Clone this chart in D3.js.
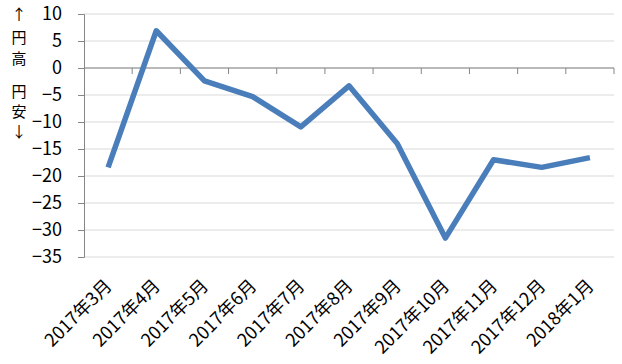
<!DOCTYPE html>
<html lang="ja">
<head>
<meta charset="UTF-8">
<script src="https://d3js.org/d3.v7.min.js"></script>
<style>
  body { margin: 0; background: #fff; }
  svg text { font-family: "Noto Sans CJK JP", "Noto Sans", sans-serif; fill: #000; }
</style>
</head>
<body>
<svg id="chart"></svg>
<script>
// data
const months = ["2017年3月", "2017年4月", "2017年5月", "2017年6月", "2017年7月", "2017年8月",
                "2017年9月", "2017年10月", "2017年11月", "2017年12月", "2018年1月"];
const values = [-18.4, 6.9, -2.4, -5.3, -10.9, -3.3, -14.0, -31.5, -17.0, -18.4, -16.6];
const yTicks = [10, 5, 0, -5, -10, -15, -20, -25, -30, -35];

const W = 622, H = 364;
const margin = { top: 14, right: 8, bottom: 107, left: 84 };
const width = W - margin.left - margin.right;
const height = H - margin.top - margin.bottom;

const svg = d3.select("#chart").attr("width", W).attr("height", H);
const g = svg.append("g").attr("transform", `translate(${margin.left},${margin.top})`);

const x = d3.scaleBand().domain(months).range([0, width]);
const y = d3.scaleLinear().domain([-35, 10]).range([height, 0]);

// gridlines
g.append("g").selectAll("line").data(yTicks).join("line")
  .attr("x1", 0).attr("x2", width)
  .attr("y1", d => y(d)).attr("y2", d => y(d))
  .attr("stroke", "#d9d9d9").attr("stroke-width", 1);

// y axis
const yAxis = g.append("g")
  .call(d3.axisLeft(y).tickValues(yTicks).tickSize(6).tickPadding(16).tickFormat(d3.format("d")));
yAxis.select(".domain").attr("stroke", "#868686");
yAxis.selectAll(".tick line").attr("stroke", "#868686");
yAxis.selectAll("text").attr("font-size", 18).attr("fill", "#000").attr("font-family", "Liberation Sans, sans-serif");

// x axis at zero, ticks between categories
const xAxis = g.append("g").attr("transform", `translate(0,${y(0)})`);
xAxis.append("line").attr("x1", 0).attr("x2", width).attr("stroke", "#868686");
xAxis.selectAll(".tk").data(months).join("line")
  .attr("class", "tk")
  .attr("x1", d => x(d) + x.bandwidth())
  .attr("x2", d => x(d) + x.bandwidth())
  .attr("y1", 0).attr("y2", 6)
  .attr("stroke", "#868686");

// category labels
g.append("g").selectAll("text").data(months).join("text")
  .attr("transform", d => `translate(${x(d) + x.bandwidth() / 2 + 5},${height + 30}) rotate(-45)`)
  .attr("text-anchor", "end")
  .attr("font-size", 18)
  .text(d => d);

// line
const line = d3.line()
  .x((d, i) => x(months[i]) + x.bandwidth() / 2)
  .y(d => y(d));
g.append("path").datum(values)
  .attr("d", line)
  .attr("fill", "none")
  .attr("stroke", "#4a7ebb")
  .attr("stroke-width", 5.5)
  .attr("stroke-linejoin", "round");

// side note
const note1 = ["↑", "円", "高"];
const note2 = ["円", "安", "↓"];
const note1Y = [20, 43, 64];
const note2Y = [97, 117, 137];
svg.append("g").selectAll("text").data(note1).join("text")
  .attr("x", 19).attr("y", (d, i) => note1Y[i])
  .attr("text-anchor", "middle").attr("font-size", 15).text(d => d);
svg.append("g").selectAll("text").data(note2).join("text")
  .attr("x", 19).attr("y", (d, i) => note2Y[i])
  .attr("text-anchor", "middle").attr("font-size", 15).text(d => d);
</script>
</body>
</html>
